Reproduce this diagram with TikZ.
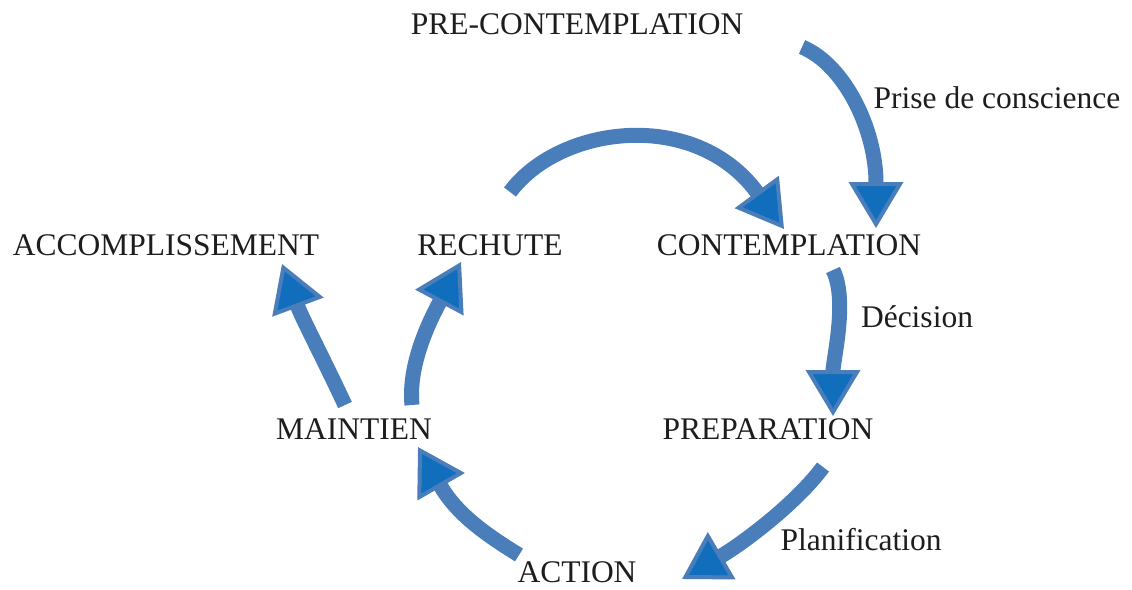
\documentclass[tikz,border=0pt]{standalone}
\usepackage{fontspec}
\setmainfont{Liberation Serif}
\usetikzlibrary{arrows.meta}
\definecolor{arrowblue}{RGB}{74,126,187}
\definecolor{headblue}{RGB}{17,110,189}
\definecolor{inkgray}{RGB}{30,28,29}
\tikzstyle{stage} = [anchor=base, inner sep=0pt, text=inkgray, font=\fontsize{31.5}{36}\selectfont]
\tikzstyle{cue} = [anchor=base, inner sep=0pt, text=inkgray, font=\fontsize{31.5}{36}\selectfont]
\tikzstyle{flow} = [draw=arrowblue, line width=15pt, -{Triangle[length=46pt, width=54pt, line width=4pt, fill=headblue, color=arrowblue]}]

\begin{document}
\begin{tikzpicture}[x=1pt, y=-1pt]
        \useasboundingbox (0,0) rectangle (1132,589);
        % stages
        \node (precont) [stage] at (577,34) {PRE-CONTEMPLATION};
        \node (cont) [stage] at (789,255) {CONTEMPLATION};
        \node (rechute) [stage] at (490,255) {RECHUTE};
        \node (accomp) [stage] at (166,255) {ACCOMPLISSEMENT};
        \node (prep) [stage] at (768,439) {PREPARATION};
        \node (maint) [stage] at (354,439) {MAINTIEN};
        \node (action) [stage] at (577,582) {ACTION};
        % transitions
        \node (prise) [cue] at (997,108) {Prise de conscience};
        \node (decision) [cue] at (917,327) {Décision};
        \node (planif) [cue] at (861,550) {Planification};

        \coordinate (precont-out) at (802,47);
        \coordinate (cont-in) at (876,228);
        \coordinate (rechute-out) at (510,192);
        \coordinate (cont-in2) at (784,229);
        \coordinate (cont-out) at (833,270);
        \coordinate (prep-in) at (833,416);
        \coordinate (prep-out) at (823,467);
        \coordinate (action-in) at (682,579);
        \coordinate (action-out) at (519,555);
        \coordinate (maint-in) at (418,447);
        \coordinate (maint-out1) at (345,405);
        \coordinate (accomp-in) at (282,264);
        \coordinate (maint-out2) at (412,405);
        \coordinate (rechute-in) at (461,262);

        \draw [flow] (precont-out) .. controls (845,65) and (876,130) .. (cont-in);
        \draw [flow] (rechute-out) .. controls (560,125) and (695,108) .. (cont-in2);
        \draw [flow] (cont-out) .. controls (848,300) and (833,360) .. (prep-in);
        \draw [flow] (prep-out) .. controls (795,505) and (740,545) .. (action-in);
        \draw [flow] (action-out) .. controls (490,537) and (458,516) .. (maint-in);
        \draw [flow] (maint-out1) .. controls (325,362) and (302,318) .. (accomp-in);
        \draw [flow] (maint-out2) .. controls (408,365) and (429,322) .. (rechute-in);
    \end{tikzpicture}
\end{document}
